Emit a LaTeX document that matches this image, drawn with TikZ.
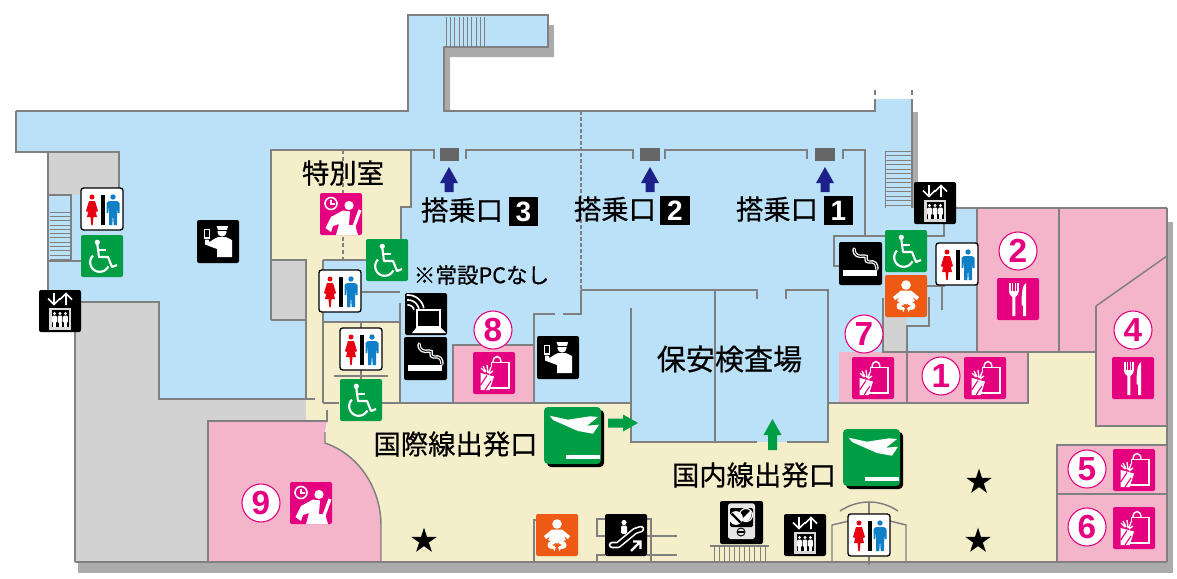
\documentclass[tikz,border=0pt]{standalone}
\usepackage{fontspec}
\setmainfont{Liberation Sans}
\newfontfamily\jp[FakeBold=0.5]{Noto Sans CJK JP}
\usetikzlibrary{shapes.geometric}
\definecolor{wallc}{HTML}{808080}
\definecolor{shadowc}{HTML}{ABABAB}
\definecolor{bluec}{HTML}{BAE1F8}
\definecolor{creamc}{HTML}{F5EECB}
\definecolor{pinkc}{HTML}{F4B4C9}
\definecolor{grayc}{HTML}{D2D2D2}
\definecolor{magc}{HTML}{E5007F}
\definecolor{greenc}{HTML}{009E44}
\definecolor{orangec}{HTML}{EE5A14}
\definecolor{navyc}{HTML}{1D2088}
\definecolor{gatec}{HTML}{666666}
\definecolor{redc}{HTML}{E60012}
\definecolor{manc}{HTML}{0F7FC8}
\tikzset{
 wall/.style={draw=wallc,line width=1.5pt},
 thin wall/.style={draw=wallc,line width=1.1pt},
 outer/.style={draw=wallc,line width=2pt},
 stair/.style={draw=wallc,line width=0.55pt},
 numc/.style={circle,draw=magc,line width=0.8pt,fill=white,text=magc,minimum size=28.5pt,inner sep=0pt,font=\bfseries\fontsize{25}{25}\selectfont},
 gatebox/.style={fill=black,text=white,minimum width=22pt,minimum height=22pt,inner sep=0pt,font=\bfseries\fontsize{21}{21}\selectfont},
 lbl/.style={inner sep=0pt,font=\jp\fontsize{20.5}{22}\selectfont},
 blackstar/.style={star,star points=5,star point ratio=2.618,fill=black,minimum size=20pt,inner sep=0pt},
 pics/toilet/.style={code={
  \fill[white,draw=black,line width=1pt,rounded corners=2] (0,0) rectangle (42,42);
  \fill[redc] (11,9) circle (2.5);
  \fill[redc,line join=round] (8,13)--(14,13)--(17,23)--(15.3,24)--(13.5,18)--(16,29)--(12.5,29)--(11.7,37)--(10.3,37)--(9.5,29)--(6,29)--(8.5,18)--(6.7,24)--(5,23)--cycle;
  \fill[black] (19.5,6.5) rectangle (23.5,37);
  \fill[manc] (32,9) circle (2.7);
  \fill[manc,line join=round] (28,13)--(36,13)--(38.5,15)--(38.5,25)--(36.7,25)--(36,17)--(36,37)--(32.7,37)--(32,26)--(31.3,37)--(28,37)--(28,17)--(27.3,25)--(25.5,25)--(25.5,15)--cycle;
 }},
 pics/wheel/.style={code={
  \fill[greenc,rounded corners=1.5] (0,0) rectangle (42,42);
  \fill[white] (16.3,7.3) circle (2.6);
  \draw[white,line width=1.6pt,line join=round] (16.3,9)--(18,22)--(27,22)--(31,32)--(36,30);
  \draw[white,line width=1.6pt] (17,15)--(25,15);
  \draw[white,line width=1.6pt] plot[domain=25:225,samples=30] ({18.7+9.5*cos(\x)},{27.3+9.5*sin(\x)});
 }},
 pics/lift/.style={code={
  \fill[black,rounded corners=1.5] (0,0) rectangle (42,42);
  \draw[white,line width=1.3pt,line join=miter] (15,3)--(15,14) (9,8.5)--(15,14.5)--(21,8.5);
  \draw[white,line width=1.3pt] (27,15)--(27,4) (21,9.5)--(27,3.5)--(33,9.5);
  \fill[white!85!black] (10,17.5) rectangle (32,39.5);
  \fill[black] (12.5,20) rectangle (29.5,37);
  \foreach \q in {15.5,21,26.5}{
   \fill[white] (\q,23.5) circle (1.7);
   \fill[white,rounded corners=0.8] (\q-2.3,25.5) rectangle (\q+2.3,33);
   \fill[white] (\q-1.5,33) rectangle (\q+1.5,36.5);
  }
 }},
 pics/officer/.style={code={
  \fill[black,rounded corners=1.5] (0,0) rectangle (42,43);
  \fill[white] (25,12) circle (4.6);
  \fill[white] (19.5,6)--(31,6)--(30,10)--(21,10)--cycle;
  \fill[black] (20.5,10) rectangle (30,10.8);
  \fill[white,line join=round] (17,19)--(21,17)--(29,17)--(35,20)--(35,37)--(20,37)--(20,29)--(8,24.5)--(8,19.5)--(11.5,19.5)--(12.5,22)--cycle;
  \draw[white,line width=0.8pt,fill=black] (7.5,9.5) rectangle (12.5,18);
 }},
 pics/smoke/.style={code={
  \fill[black,rounded corners=1.5] (0,0) rectangle (43,43);
  \fill[white] (4,28) rectangle (38,34);
  \draw[white,line width=2.6pt,line cap=round] (15,7) .. controls (15,14) and (20,15) .. (25,14) .. controls (30,13) and (24,20) .. (30,20) .. controls (36,19) and (38,22) .. (38,27);
  \draw[black,line width=0.7pt,line cap=round] (15.2,7) .. controls (15.2,14) and (20,15) .. (25,14) .. controls (30,13) and (24,20) .. (30,20) .. controls (36,19) and (38,22) .. (38,28);
 }},
 pics/wifipc/.style={code={
  \fill[black,rounded corners=1.5] (0,0) rectangle (42,42);
  \foreach \r in {6,11,16}{
   \draw[white,line width=1.2pt] plot[domain=265:350,samples=14] ({3+\r*cos(\x)},{18+\r*sin(\x)});
  }
  \fill[white] (11,16) rectangle (36,35);
  \fill[black] (13,18) rectangle (34,33);
  \fill[white] (11,35)--(36,35)--(41,40)--(7,40)--cycle;
 }},
 pics/baby/.style={code={
  \fill[orangec,rounded corners=1.5] (0,0) rectangle (42,42);
  \fill[white] (21,10) circle (4.8);
  \fill[white,line join=round] (16,15.5)--(26,15.5)--(34,22)--(32,25)--(27.5,22)--(30,26)--(21,29.5)--(12,26)--(14.5,22)--(10,25)--(8,22)--cycle;
  \fill[white] (15.5,31) circle (4);
  \fill[white] (26.5,31) circle (4);
  \fill[white] (16,33)--(20,33)--(18.5,37)--cycle;
  \fill[white] (26,33)--(22,33)--(23.5,37)--cycle;
  \fill[orangec] (19.7,29.5)--(16,31)--(19.7,32.5)--cycle;
  \fill[orangec] (22.3,29.5)--(26,31)--(22.3,32.5)--cycle;
 }},
 pics/shop/.style={code={
  \fill[magc,rounded corners=1.5] (0,0) rectangle (42,42);
  \draw[white,line width=1.1pt] (18.3,10.5) rectangle (36,36);
  \draw[white,line width=1.1pt] (20,10.5) .. controls (20,2.5) and (28,2.5) .. (28,10.5);
  \fill[magc] (7,15) rectangle (22,42);
  \fill[white] (7.7,21)--(21,24.5)--(16.7,38)--(7.7,38)--cycle;
  \draw[magc,line width=0.8pt] (7.7,33)--(14,23.5) (12,38)--(18,29);
  \draw[white,line width=1pt] (8,16)--(12,20) (10,14)--(13,20) (14,13)--(15,21) (18,15)--(16,21) (20,19)--(16,22);
  \draw[white,line width=1.1pt] (17,36)--(36,36);
 }},
 pics/fork/.style={code={
  \fill[magc,rounded corners=1.5] (0,0) rectangle (42,42);
  \fill[white] (12,5) rectangle (13.5,14);
  \fill[white] (15,5) rectangle (16.3,14);
  \fill[white] (17.7,5) rectangle (19,14);
  \fill[white] (20.3,5) rectangle (21.7,14);
  \fill[white] (12,13)--(21.7,13) .. controls (21.7,17) and (19,18) .. (18.3,19)--(18.3,38)--(15.3,38)--(15.3,19) .. controls (14.5,18) and (12,17) .. (12,13)--cycle;
  \fill[white] (29,5) .. controls (26,7) and (24.5,12) .. (24.5,27)--(26,28)--(26,38)--(29,38)--cycle;
 }},
 pics/lounge/.style={code={
  \fill[magc,rounded corners=1.5] (0,0) rectangle (42,42);
  \draw[white,line width=1.2pt] (11,10.5) circle (6);
  \draw[white,line width=0.8pt] (11,7)--(11,11)--(14.5,11);
  \fill[white] (29,12.5) circle (4.6);
  \fill[white,line join=round] (5.5,35)--(11,24)--(23,17.5)--(30,18.5)--(29,32)--(35,32)--(38,42)--(16,42)--(19,31)--(13,33)--(11,39)--cycle;
  \draw[magc,line width=1pt] (32.5,18)--(30,32);
  \draw[white,line width=2.4pt] (40,17)--(34,33.5);
 }},
 pics/esca/.style={code={
  \fill[black,rounded corners=1.5] (0,0) rectangle (42,42);
  \fill[white] (19,8.5) circle (2.6);
  \fill[white,rounded corners=1] (16,11.5) rectangle (22,20);
  \draw[white,line width=5pt,line cap=round,line join=round] (7,31)--(13,31)--(30,17)--(36,15);
  \draw[black,line width=2.6pt,line cap=round,line join=round] (7,31)--(13,31)--(30,17)--(36,15);
  \draw[white,line width=1.7pt] (26,37)--(35,28) (28,27.5)--(35.5,27.5)--(35.5,35);
 }},
 pics/ticket/.style={code={
  \fill[black,rounded corners=1.5] (0,0) rectangle (43,43);
  \fill[white!90!black,rounded corners=2] (8,2.3) rectangle (35,38);
  \fill[black,rounded corners=1] (10,7) rectangle (33,26);
  \draw[white,fill=white,line width=0.5pt] (16,17) circle (6.5);
  \draw[black,line width=1.6pt] (11.5,12.5)--(20.5,21.5);
  \draw[white,line width=0.9pt] (26,14) circle (6.5);
  \fill[white] (21.5,18.5)--(30.5,9.5) .. controls (33,13) and (31,19) .. (26,20.5) -- cycle;
  \draw[black,line width=0.7pt] (21,31) circle (4);
  \fill[black] (18,30.3) rectangle (24,31.7);
 }},
 pics/dep/.style={code={
  \fill[black,rounded corners=3] (3,3) rectangle (60,60);
  \fill[greenc,rounded corners=3] (0,0) rectangle (57,57);
  \fill[white,line join=round] (5.7,8.7)--(24,12.7)--(46,9.3)--(54,10)--(43,18.7)--(55,17.7)--(49,26.7)--(34,24)--(9,13)--cycle;
  \fill[white] (21.7,47.7) rectangle (55.7,52);
 }},
}
\begin{document}
\begin{tikzpicture}[x=0.75pt,y=-0.75pt]
\useasboundingbox (0,0) rectangle (1177,578);
% shadows
\fill[shadowc] (444,47)--(554,47)--(554,57)--(450,57)--(450,111)--(444,111)--cycle;
\fill[shadowc] (548,25) rectangle (554,57);
\fill[shadowc] (912,112) rectangle (918,210);
\fill[shadowc] (78,560) rectangle (1173,573);
\fill[shadowc] (1167,222) rectangle (1173,573);
% gray areas
\fill[grayc] (75,331)--(80,331)--(80,302)--(159,302)--(159,399)--(306,399)--(306,421)--(208,421)--(208,562)--(75,562)--cycle;
% blue floor
\fill[bluec] (408,15)--(548,15)--(548,47)--(444,47)--(444,111)--(875,111)--(875,99)--(912,99)--(912,208)--(977,208)--(977,352)--(907,352)--(907,403)--(828,403)--(828,442)--(631,442)--(631,403)--(306,403)--(306,399)--(159,399)--(159,302)--(48,302)--(48,152)--(16,152)--(16,111)--(408,111)--cycle;
\fill[grayc] (49,153) rectangle (119,195);
\fill[grayc] (272,260) rectangle (306,320);
\fill[grayc] (883,316) rectangle (907,352);
% cream
\fill[creamc] (271,150)--(410,150)--(410,207)--(401,207)--(401,260)--(323,260)--(323,403)--(306,403)--(306,260)--(271,260)--cycle;
\fill[creamc] (323,322) rectangle (400,403);
\fill[creamc] (306,399)--(306,421)--(327,421)--(325,443)--(381,562)--(1057,562)--(1057,445)--(1167,445)--(1167,426)--(1096,426)--(1096,352)--(1028,352)--(1028,403)--(828,403)--(828,442)--(631,442)--(631,403)--(323,403)--(323,399)--cycle;
% pink
\fill[pinkc] (208,421)--(327,421)--(325,432)--(325,443) .. controls (360,455) and (381,490) .. (381,525)--(381,562)--(208,562)--cycle;
\fill[pinkc] (453,345) rectangle (534,403);
\fill[pinkc] (839,352) rectangle (907,403);
\fill[pinkc] (907,352) rectangle (1028,403);
\fill[pinkc] (977,208)--(1167,208)--(1167,426)--(1096,426)--(1096,352)--(977,352)--cycle;
\fill[pinkc] (1057,445) rectangle (1167,562);
% stairs
\foreach \q in {446,450.3,...,486}{\draw[stair] (\q,17)--(\q,48);}
\foreach \q in {212,216.3,...,261}{\draw[stair] (50,\q)--(71,\q);}
\foreach \q in {151,155.5,...,208}{\draw[stair] (885,\q)--(912,\q);}
\draw[stair] (885,151)--(885,208);
\foreach \q in {714,719.1,...,766}{\draw[stair] (\q,546)--(\q,562);}
% outer walls
\draw[outer,line join=miter] (16,111)--(408,111)--(408,15)--(548,15)--(548,47)--(444,47)--(444,111)--(875,111)--(875,99);
\draw[thin wall] (875,90)--(875,95) (912,90)--(912,95);
\draw[outer] (912,99)--(912,208);
\draw[outer] (16,111)--(16,152)--(48,152)--(48,295);
\draw[wall] (48,152)--(119,152)--(119,188);
\draw[wall] (48,195)--(71,195)--(71,261)--(48,261);
\draw[wall] (71,261)--(81,261);
\draw[wall] (80,302)--(159,302)--(159,399)--(315,399);
\draw[wall] (75,331)--(75,562);
\draw[outer] (75,562)--(1167,562);
\draw[wall] (208,562)--(208,421)--(327,421)--(327,410);
\draw[thin wall] (325,432)--(325,443) .. controls (360,455) and (381,490) .. (381,525)--(381,562);
% special room and toilets
\draw[wall] (271,320)--(271,150)--(411,150)--(411,207)--(401,207)--(401,240);
\draw[wall] (271,260)--(306,260)--(306,399);
\draw[wall] (271,320)--(306,320);
\draw[wall,dashed,dash pattern=on 3pt off 2pt,line width=1.1pt] (343,150)--(343,260);
\draw[wall] (323,260)--(366,260);
\draw[wall] (323,260)--(323,403);
\draw[wall] (362,292)--(400,292);
\draw[wall] (323,322)--(400,322);
\draw[wall] (400,303)--(400,403);
\draw[wall] (361,322)--(361,380);
\draw[wall] (334,376)--(388,376);
\draw[wall] (323,403)--(339,403) (382,403)--(631,403);
% gates wall
\draw[wall] (411,150)--(434,150)--(434,159);
\draw[wall] (466,159)--(466,150)--(633,150)--(633,159);
\draw[wall] (665,159)--(665,150)--(807,150)--(807,159);
\draw[wall] (843,159)--(843,150)--(865,150)--(865,236);
\fill[gatec] (440,148) rectangle (459,161);
\fill[gatec] (640,148) rectangle (660,161);
\fill[gatec] (815,148) rectangle (835,161);
\draw[wall,dashed,dash pattern=on 3pt off 1.5pt,line width=1pt] (581,111)--(581,290);
% central
\draw[wall] (581,290)--(581,314)--(563,314);
\draw[wall] (555,314)--(534,314)--(534,403);
\draw[wall] (453,403)--(453,345)--(534,345);
\draw[wall] (581,290)--(757,290)--(757,299);
\draw[wall] (786,299)--(786,290)--(828,290)--(828,442)--(787,442);
\draw[wall] (757,442)--(631,442)--(631,308);
\draw[wall] (715,290)--(715,442);
% right
\draw[wall] (885,236)--(834,236)--(834,266)--(840,266);
\draw[wall] (944,223)--(944,236)--(925,236);
\draw[wall] (925,286)--(945,286);
\draw[wall] (942,286)--(942,310);
\draw[wall] (929,297)--(929,326)--(907,326)--(907,352);
\draw[wall] (883,298)--(883,352)--(977,352);
\draw[wall] (956,208)--(1167,208);
\draw[wall] (977,208)--(977,352);
\draw[wall] (828,403)--(1028,403)--(1028,352)--(977,352);
\draw[wall] (907,352)--(907,403);
\draw[wall] (1059,208)--(1059,352);
\draw[wall] (1028,352)--(1096,352)--(1096,426)--(1167,426);
\draw[thin wall] (1096,306)--(1167,256);
\draw[wall] (1096,352)--(1096,306);
\draw[outer] (1167,208)--(1167,562);
\draw[wall] (1057,562)--(1057,445)--(1167,445);
\draw[wall] (1057,494)--(1167,494);
% bottom details
\draw[thin wall] (534,562)--(534,520)--(540,520);
\draw[thin wall] (605,519)--(597,519)--(597,536)--(605,536);
\draw[thin wall] (605,555)--(597,555)--(597,562);
\draw[thin wall] (647,519)--(651,519)--(651,562);
\draw[thin wall] (647,536)--(677,536) (647,555)--(677,555);
\draw[wall,line width=1.1pt] (710,546)--(769,546);
\draw[thin wall] (840,511) .. controls (858,499) and (880,499) .. (898,511);
\draw[thin wall] (869,502)--(869,514) (869,557)--(869,565);
\draw[thin wall] (832,562)--(832,525)--(849,521);
\draw[thin wall] (906,562)--(906,525)--(890,521);
% arrows
\fill[navyc] (449,167)--(458,183)--(453.5,183)--(453.5,192)--(444.5,192)--(444.5,183)--(440,183)--cycle;
\fill[navyc] (650,167)--(659,183)--(654.5,183)--(654.5,192)--(645.5,192)--(645.5,183)--(641,183)--cycle;
\fill[navyc] (825,167)--(834,183)--(829.5,183)--(829.5,192)--(820.5,192)--(820.5,183)--(816,183)--cycle;
\fill[greenc] (638,423)--(623,414.5)--(623,418.5)--(608,418.5)--(608,427.5)--(623,427.5)--(623,431.5)--cycle;
\fill[greenc] (772.5,419)--(781.5,435)--(777,435)--(777,450)--(768,450)--(768,435)--(763.5,435)--cycle;
% icons
\pic at (81,188) {toilet};
\pic at (81,235) {wheel};
\pic at (39,290) {lift};
\pic at (197,220) {officer};
\pic at (320,193) {lounge};
\pic at (366,239) {wheel};
\pic at (319,270) {toilet};
\pic at (340,328) {toilet};
\pic at (340,379) {wheel};
\pic at (405,293) {wifipc};
\pic at (404,337) {smoke};
\pic at (473,352) {shop};
\pic at (537,336) {officer};
\pic at (544,407) {dep};
\pic at (843,429) {dep};
\pic at (839,242) {smoke};
\pic at (885,230) {wheel};
\pic at (885,275) {baby};
\pic at (936,243) {toilet};
\pic at (914,182) {lift};
\pic at (852,357) {shop};
\pic at (964,357) {shop};
\pic at (997,278) {fork};
\pic at (1112,357) {fork};
\pic at (1113,449) {shop};
\pic at (1113,507) {shop};
\pic at (290,482) {lounge};
\pic at (536,514) {baby};
\pic at (605,514) {esca};
\pic at (720,501) {ticket};
\pic at (784,514) {lift};
\pic at (848,514) {toilet};
% numbers
\node[numc] (n8) at (493,330) {8};
\node[numc] (n7) at (864,334) {7};
\node[numc] (n1) at (941,376) {1};
\node[numc] (n2) at (1018,251) {2};
\node[numc] (n4) at (1133,330) {4};
\node[numc] (n5) at (1087,469) {5};
\node[numc] (n6) at (1087,527) {6};
\node[numc] (n9) at (261,503) {9};
% stars
\node[blackstar] (s1) at (424,541) {};
\node[blackstar] (s2) at (979,482) {};
\node[blackstar] (s3) at (978,541) {};
% labels
\node[lbl] (t0) at (343,173) {特別室};
\node[lbl] (t3) at (462,210) {搭乗口};
\node[gatebox] (b3) at (523.5,211.5) {3};
\node[lbl] (t2) at (615,209) {搭乗口};
\node[gatebox] (b2) at (675,210.5) {2};
\node[lbl] (t1) at (777,209) {搭乗口};
\node[gatebox] (b1) at (838.5,210.5) {1};
\node[lbl,font=\jp\fontsize{16.2}{18}\selectfont] (tp) at (481.5,275) {※常設PCなし};
\node[lbl,font=\jp\fontsize{21.8}{24}\selectfont] (ts) at (729.5,359) {保安検査場};
\node[lbl] (ti) at (455.5,444) {国際線出発口};
\node[lbl] (td) at (754,475) {国内線出発口};
\end{tikzpicture}
\end{document}
